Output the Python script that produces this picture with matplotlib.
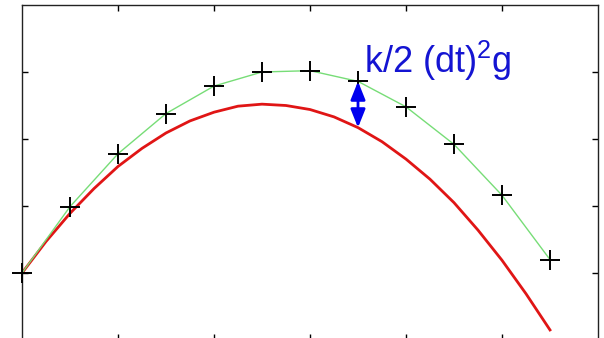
import matplotlib
matplotlib.use("Agg")
import matplotlib.pyplot as plt

# Euler steps (dt = 0.5) vs the exact trajectory
t_steps = [0.0, 0.5, 1.0, 1.5, 2.0, 2.5, 3.0, 3.5, 4.0, 4.5, 5.0, 5.5]
y_euler = [0.0, 0.99, 1.78, 2.38, 2.79, 3.00, 3.02, 2.86, 2.48, 1.92, 1.16, 0.20]

t_exact = [0.0, 0.25, 0.5, 0.75, 1.0, 1.25, 1.5, 1.75, 2.0, 2.25, 2.5, 2.75,
           3.0, 3.25, 3.5, 3.75, 4.0, 4.25, 4.5, 4.75, 5.0, 5.25, 5.5]
y_exact = [0.0, 0.47, 0.89, 1.26, 1.59, 1.86, 2.09, 2.27, 2.40, 2.49, 2.52, 2.50,
           2.44, 2.33, 2.17, 1.96, 1.70, 1.40, 1.05, 0.64, 0.19, -0.31, -0.85]

# error bar shown at step k = 7
t_err = 3.5
err_top = 2.86
err_bottom = 2.17
err_label = "k/2 (dt)$^2$g"

plt.rcParams["mathtext.fontset"] = "custom"
plt.rcParams["mathtext.rm"] = "Liberation Sans"
plt.rcParams["mathtext.it"] = "Liberation Sans"

fig = plt.figure(figsize=(6.04, 3.38), dpi=100)
ax = fig.add_axes([22 / 604, -2 / 338, 576 / 604, 335 / 338])

ax.plot(t_exact, y_exact, color="#e01515", lw=2.0, zorder=2)
ax.plot(t_steps, y_euler, color="#77dd77", lw=1.0, zorder=3)
ax.plot(t_steps, y_euler, ls="none", marker="+", ms=14, mew=1.4,
        color="black", zorder=4, clip_on=False)

ax.annotate("", xy=(t_err, err_bottom), xytext=(t_err, err_top),
            arrowprops=dict(arrowstyle="<|-|>,head_length=0.5,head_width=0.2",
                            color="#0000ee", lw=2, mutation_scale=22,
                            shrinkA=0, shrinkB=0),
            zorder=5)
ax.text(3.56, 2.98, err_label, color="#1414d2", fontsize=26,
        family="Liberation Sans", ha="left", va="baseline")

ax.set_xlim(0, 6)
ax.set_ylim(-1, 4)
ax.set_xticks([1, 2, 3, 4, 5])
ax.set_yticks([0, 1, 2, 3])
ax.tick_params(direction="in", length=4, width=1, top=True, right=True,
               labelbottom=False, labelleft=False)
for s in ax.spines.values():
    s.set_color("#222222")
    s.set_linewidth(1.0)

fig.savefig("out.png", dpi=100)
